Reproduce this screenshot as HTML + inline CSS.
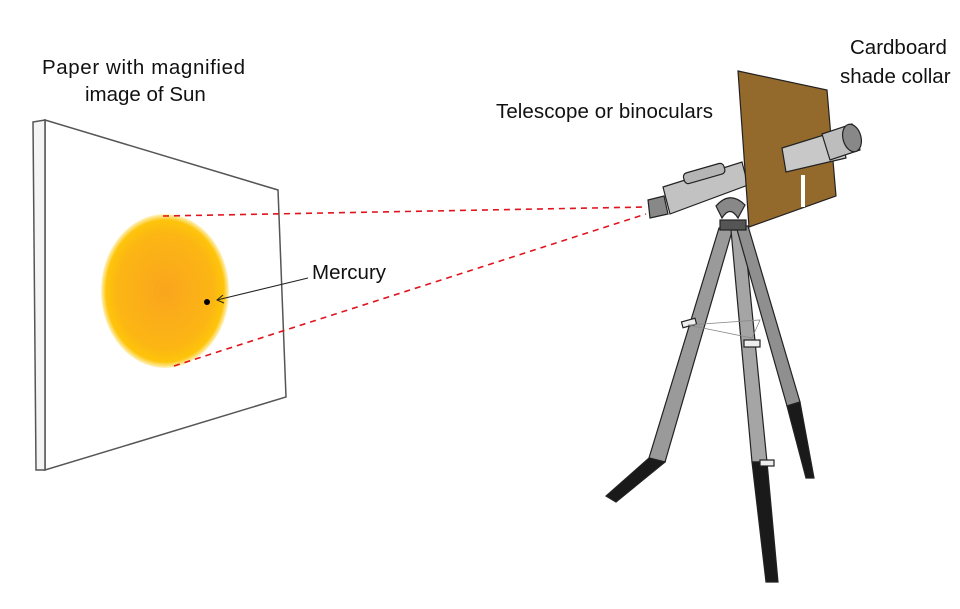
<!DOCTYPE html>
<html><head><meta charset="utf-8"><style>
html,body{margin:0;padding:0;background:#fff;}
svg{display:block;}
text{font-family:"Liberation Sans","DejaVu Sans",sans-serif;font-size:20.5px;fill:#111;}
</style></head><body>
<svg width="960" height="609" viewBox="0 0 960 609">
<defs>
<radialGradient id="sun" cx="0.5" cy="0.5" r="0.5">
<stop offset="0" stop-color="#f9a51d"/><stop offset="0.75" stop-color="#fcb614"/><stop offset="0.92" stop-color="#fec40a"/><stop offset="1" stop-color="#fff3c0"/>
</radialGradient>
</defs>
<g fill="none" stroke="#555" stroke-width="1.5">
<polygon points="45,120 278,190 286,397 45,470" fill="#fff"/>
<polygon points="33,122 45,120 45,470 36,470" fill="#f5f5f5"/>
</g>
<ellipse cx="165" cy="291" rx="64" ry="77" fill="url(#sun)"/>
<circle cx="207" cy="302" r="3" fill="#000"/>
<g stroke="#222" stroke-width="1" fill="none">
<line x1="308" y1="278" x2="217" y2="300"/>
<polyline points="223,295 217,300 224,303"/>
</g>
<text x="312" y="279">Mercury</text>
<g stroke="#e0141e" stroke-width="1.6" stroke-dasharray="6,5" fill="none">
<line x1="163" y1="216" x2="646" y2="207"/>
<line x1="174" y1="366" x2="646" y2="214"/>
</g>
<g stroke="#222" stroke-width="1.2">
<polygon points="719,228 733,228 665,462 649,458" fill="#9a9a9a"/>
<polygon points="649,458 665,462 616,502 606,496" fill="#1a1a1a"/>
<polygon points="731,230 744,230 767,462 752,462" fill="#a5a5a5"/>
<polygon points="752,462 767,462 778,582 766,582" fill="#1a1a1a"/>
<polygon points="736,226 748,226 800,402 787,406" fill="#8f8f8f"/>
<polygon points="787,406 800,402 814,478 806,478" fill="#1a1a1a"/>
<rect x="682" y="320" width="14" height="6" fill="#eee" transform="rotate(-15 689 323)"/>
<rect x="744" y="340" width="16" height="7" fill="#eee"/>
<rect x="760" y="460" width="14" height="6" fill="#eee"/>
<rect x="720" y="220" width="26" height="10" fill="#555"/>
<path d="M688,325 L760,320 L752,338 Z" fill="none" stroke="#888" stroke-width="0.8"/>
</g>
<g stroke="#222" stroke-width="1.2">
<path d="M716,206 Q730,190 745,205 L738,218 Q730,205 722,218 Z" fill="#888"/>
<polygon points="663,187 742,162 748,185 670,214" fill="#c2c2c2"/>
<rect x="683" y="168" width="42" height="11" rx="4" transform="rotate(-16 704 173)" fill="#b5b5b5"/>
<polygon points="648,200 664,196 668,214 650,218" fill="#888"/>
<polygon points="738,71 827,90 836,196 749,227" fill="#946a2c"/>
<rect x="801" y="175" width="4" height="32" fill="#fff" stroke="none"/>
<polygon points="782,148 840,130 846,158 786,172" fill="#c8c8c8"/>
<polygon points="822,134 852,124 860,150 830,160" fill="#bdbdbd"/>
<ellipse cx="852" cy="138" rx="9" ry="14" transform="rotate(-15 852 138)" fill="#888"/>
</g>
<text x="42" y="74" textLength="203">Paper with magnified</text>
<text x="85" y="101">image of Sun</text>
<text x="496" y="118" textLength="217">Telescope or binoculars</text>
<text x="850" y="54">Cardboard</text>
<text x="840" y="83">shade collar</text>
</svg>
</body></html>
